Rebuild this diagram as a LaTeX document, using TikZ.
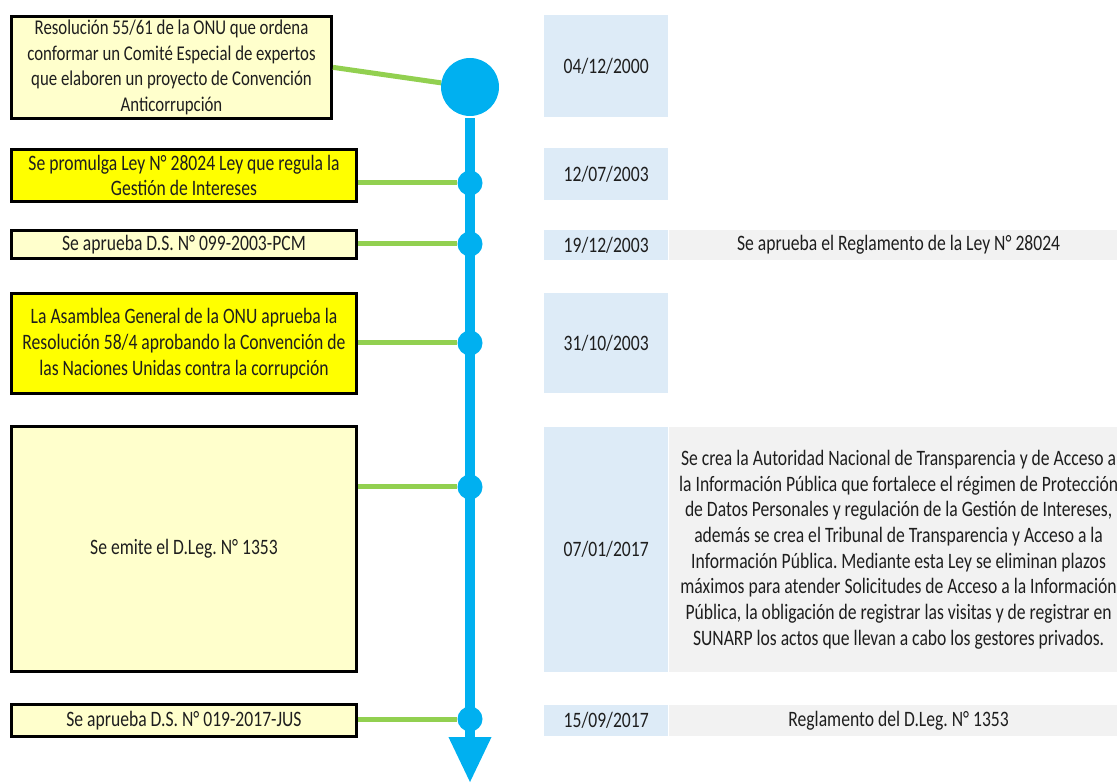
\documentclass[tikz,border=0pt]{standalone}
\usepackage{fontspec}
\setmainfont[FakeStretch=0.8]{Carlito}
\usepackage{tikz}
\usetikzlibrary{shadows, arrows.meta, positioning, calc}
\definecolor{amarilloclaro}{RGB}{255,255,204}
\definecolor{amarillo}{RGB}{255,255,0}
\definecolor{verde}{RGB}{146,208,80}
\definecolor{celeste}{RGB}{0,176,240}
\definecolor{fecha}{RGB}{221,235,247}
\definecolor{gris}{RGB}{242,242,242}
\definecolor{texto}{RGB}{30,30,30}
\tikzset{
  hito/.style={draw=black, line width=3pt, anchor=north west, align=center, text=texto, minimum width=345pt,
    drop shadow={opacity=0.25, shadow xshift=1.5pt, shadow yshift=-1.5pt}},
  fechabox/.style={fill=fecha, anchor=north west, minimum width=124pt, text=texto, inner sep=0pt},
  grisbox/.style={fill=gris, minimum width=460pt, align=center, text=texto, inner sep=0pt},
  punto/.style={circle, fill=celeste, minimum size=25pt, inner sep=0pt},
  enlace/.style={verde, line width=5pt}
}
\frenchspacing

\begin{document}
\begin{tikzpicture}[x=1pt, y=-1pt, font=\fontsize{22}{25.7}\selectfont]
\useasboundingbox (0,0) rectangle (1117,783);
\clip (0,0) rectangle (1117,783);
% hitos
\node[hito, fill=amarilloclaro, minimum width=320pt, minimum height=99pt, font=\fontsize{21}{25.7}\selectfont] (B1) at (10,15)
  {Resolución 55/61 de la ONU que ordena\\conformar un Comité Especial de expertos\\que elaboren un proyecto de Convención\\Anticorrupción};
\node[hito, fill=amarillo, minimum height=52pt] (B2) at (10,148) {Se promulga Ley N° 28024 Ley que regula la\\Gestión de Intereses};
\node[hito, fill=amarilloclaro, minimum height=28pt] (B3) at (10,229) {Se aprueba D.S. N° 099-2003-PCM};
\node[hito, fill=amarillo, minimum height=100pt] (B4) at (10,292)
  {La Asamblea General de la ONU aprueba la\\Resolución 58/4 aprobando la Convención de\\las Naciones Unidas contra la corrupción};
\node[hito, fill=amarilloclaro, minimum height=245pt] (B5) at (10,425) {Se emite el D.Leg. N° 1353};
\node[hito, fill=amarilloclaro, minimum height=32pt] (B6) at (10,703) {Se aprueba D.S. N° 019-2017-JUS};
% fechas
\node[fechabox, minimum height=102pt] (D1) at (544,15) {04/12/2000};
\node[fechabox, minimum height=52pt] (D2) at (544,148) {12/07/2003};
\node[fechabox, minimum height=30pt] (D3) at (544,230) {19/12/2003};
\node[fechabox, minimum height=100pt] (D4) at (544,293) {31/10/2003};
\node[fechabox, minimum height=245pt] (D5) at (544,427) {07/01/2017};
\node[fechabox, minimum height=31pt] (D6) at (544,705) {15/09/2017};
\node[grisbox, right=0pt of D3, minimum height=30pt] (G3) {Se aprueba el Reglamento de la Ley N° 28024};
\node[grisbox, right=0pt of D5, minimum height=245pt] (G5)
  {Se crea la Autoridad Nacional de Transparencia y de Acceso a\\la Información Pública que fortalece el régimen de Protección\\de Datos Personales y regulación de la Gestión de Intereses,\\además se crea el Tribunal de Transparencia y Acceso a la\\Información Pública. Mediante esta Ley se eliminan plazos\\máximos para atender Solicitudes de Acceso a la Información\\Pública, la obligación de registrar las visitas y de registrar en\\SUNARP los actos que llevan a cabo los gestores privados.};
\node[grisbox, right=0pt of D6, minimum height=31pt] (G6) {Reglamento del D.Leg. N° 1353};
% linea de tiempo
\node[circle, fill=celeste, minimum size=58pt, inner sep=0pt] (C0) at (470,87) {};
\coordinate (fin) at (470,783);
\draw[celeste, line width=10pt, -{Triangle[width=40pt, length=46pt]}] ($(C0.south)+(0,2)$) -- (fin);
\foreach \n/\y in {1/183,2/244,3/343,4/487,5/719}
  \node[punto] (d\n) at (470,\y) {};
\draw[enlace] (B1.east) -- (C0);
\foreach \n/\b in {1/B2,2/B3,3/B4,4/B5,5/B6}
  \draw[enlace] (d\n -| \b.east) -- (d\n);
\end{tikzpicture}
\end{document}
